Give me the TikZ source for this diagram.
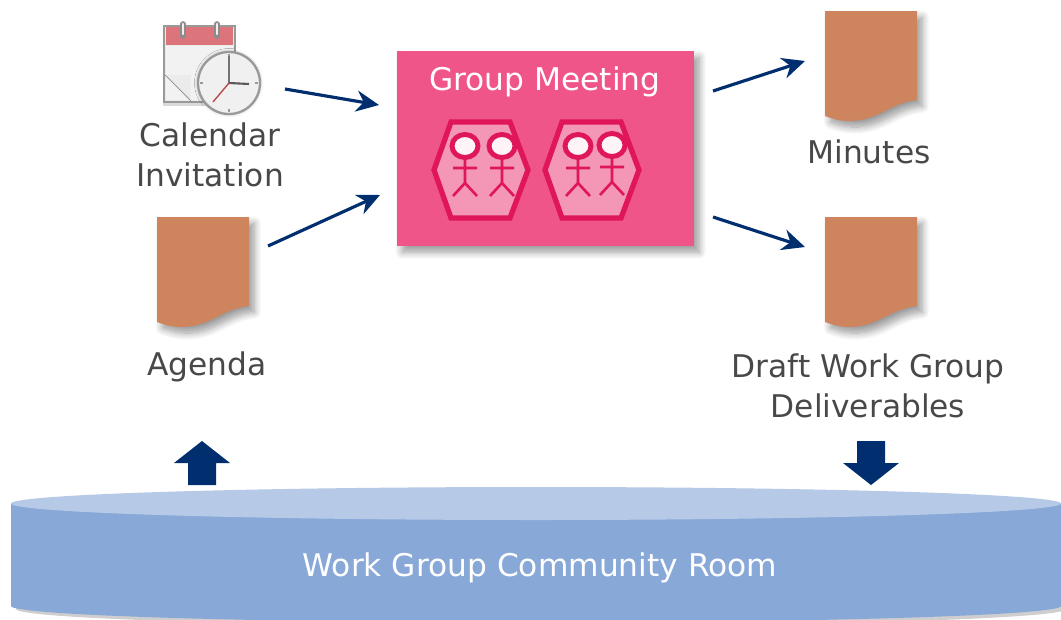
\documentclass[tikz,border=0pt]{standalone}
\usepackage{fontspec}
\setmainfont{DejaVu Sans}
\usetikzlibrary{arrows.meta, shadows.blur}
\definecolor{meetingpink}{HTML}{F0558A}
\definecolor{hexline}{HTML}{DF1659}
\definecolor{hexfill}{HTML}{F496B5}
\definecolor{docbrown}{HTML}{CE855E}
\definecolor{flowblue}{HTML}{002E6E}
\definecolor{roomside}{HTML}{88A8D8}
\definecolor{roomtop}{HTML}{B6CAE8}
\definecolor{labelgray}{HTML}{484848}
\definecolor{calendarred}{HTML}{DC747C}
\tikzset{
    softshadow/.style={blur shadow={shadow xshift=3pt, shadow yshift=-3.5pt, shadow blur steps=10, shadow opacity=40, shadow blur radius=4pt}},
    caption/.style={text=labelgray, font=\fontsize{17.8}{22.7}\selectfont, align=center, inner sep=0pt},
    flow/.style={-{Stealth[length=13pt, width=12pt]}, flowblue, line width=1.8pt},
    blockarrow/.pic={
        \fill[flowblue] (-14,0) -- (-14,-22) -- (-28,-22) -- (0,-44) -- (28,-22) -- (14,-22) -- (14,0) -- cycle;
    },
    docsheet/.pic={
        \fill[docbrown, softshadow] (0,0) -- (92,0) -- (92,89) .. controls (65,92) and (52,110) .. (25,110) .. controls (15,110) and (8,108) .. (0,105) -- cycle;
    },
    stickman/.pic={
        \draw[hexline, line width=2.8pt, fill=white!90!hexfill] (0,0) ellipse (13 and 11.5);
        \draw[hexline, line width=1.5pt] (0,12) -- (0,37) (-12,22) -- (12,22) (-12,50) -- (0,37) -- (12,50);
    },
    hexgroup/.pic={
        \draw[hexline, fill=hexfill, line width=3pt, line join=miter] (-30,-48) -- (29,-48) -- (47,0) -- (29,48) -- (-30,48) -- (-47,0) -- cycle;
    }
}
\begin{document}
\begin{tikzpicture}[x=0.02cm, y=-0.02cm]
    \useasboundingbox (0,0) rectangle (1061,619);

    % community room
    \fill[black!55, opacity=0.35] (16,512) -- (16,609) arc[start angle=180, end angle=0, x radius=525, y radius=17] -- (1066,512) -- cycle;
    \fill[roomside] (11,504) -- (11,606) arc[start angle=180, end angle=0, x radius=525, y radius=16.5] -- (1061,504) -- cycle;
    \fill[roomtop] (536,503.5) ellipse (525 and 16.5);
    \node[caption, text=white] (room) at (540,568) {Work Group Community Room};

    % meeting box
    \node[fill=meetingpink, minimum width=297*0.02cm, minimum height=195*0.02cm, inner sep=0pt, softshadow] (meeting) at (545.5,148.5) {};
    \node[caption, text=white] (meetingtitle) at (545,82) {Group Meeting};
    \foreach \x in {481, 592} {
        \pic at (\x,170) {hexgroup};
    }
    \foreach \x/\y in {465/146, 502/146, 578/146, 612/145} {
        \pic at (\x,\y) {stickman};
    }

    % calendar
    \fill[black!15] (163,103) -- (236,103) -- (236,106) -- (163,106) -- cycle;
    \draw[black!40, line width=1.3pt, fill=black!8] (164,26) rectangle (235,102);
    \fill[black!5] (166,46) rectangle (233,100);
    \fill[calendarred] (166,27) rectangle (233,45);
    \foreach \x in {183, 217} {
        \draw[black!45, line width=3.2pt, line cap=round] (\x,24) -- (\x,36);
        \draw[white!85!calendarred, line width=1.4pt, line cap=round] (\x,24) -- (\x,34);
    }
    \fill[black!15] (165,75) -- (190,75) -- (190,101) -- cycle;
    \draw[black!45] (165,75) -- (192,102);
    \fill[white!92!black] (167,75) -- (190,75) -- (190,98) -- cycle;
    \node[circle, minimum size=62*0.02cm, inner sep=0pt, draw=black!40, line width=1.3pt, fill=black!6, blur shadow={shadow xshift=0pt, shadow yshift=0pt, shadow blur steps=4, shadow opacity=30, shadow blur radius=2pt}] (clock) at (229,83) {};
    \foreach \a in {0, 90, 180, 270} {
        \draw[black!40, line width=0.7pt] (clock.center) ++(\a:26) -- ++(\a:3);
    }
    \draw[black!55, line width=0.9pt] (clock.center) -- (229,56);
    \draw[black!65, line width=1.2pt] (clock.center) -- (249,84);
    \draw[red!60!black!70, line width=0.8pt] (clock.center) -- (213,102);
    \node[caption] (calendar) at (210,155) {Calendar\\Invitation};

    % documents
    \pic at (157,217) {docsheet};
    \node[caption] (agenda) at (207,367) {Agenda};
    \pic at (825,11) {docsheet};
    \node[caption] (minutes) at (869,152) {Minutes};
    \pic at (825,217) {docsheet};
    \node[caption] (draft) at (868,386) {Draft Work Group\\Deliverables};

    % flows
    \coordinate (calout) at (285,89);
    \coordinate (calin) at (379,105);
    \coordinate (agout) at (268,246);
    \coordinate (agin) at (380,195);
    \coordinate (minout) at (713,91);
    \coordinate (minin) at (805,61);
    \coordinate (draftout) at (713,217);
    \coordinate (draftin) at (805,247);
    \draw[flow] (calout) -- (calin);
    \draw[flow] (agout) -- (agin);
    \draw[flow] (minout) -- (minin);
    \draw[flow] (draftout) -- (draftin);

    \pic at (202,485) {blockarrow};
    \pic[yscale=-1] at (871,441) {blockarrow};
\end{tikzpicture}
\end{document}
